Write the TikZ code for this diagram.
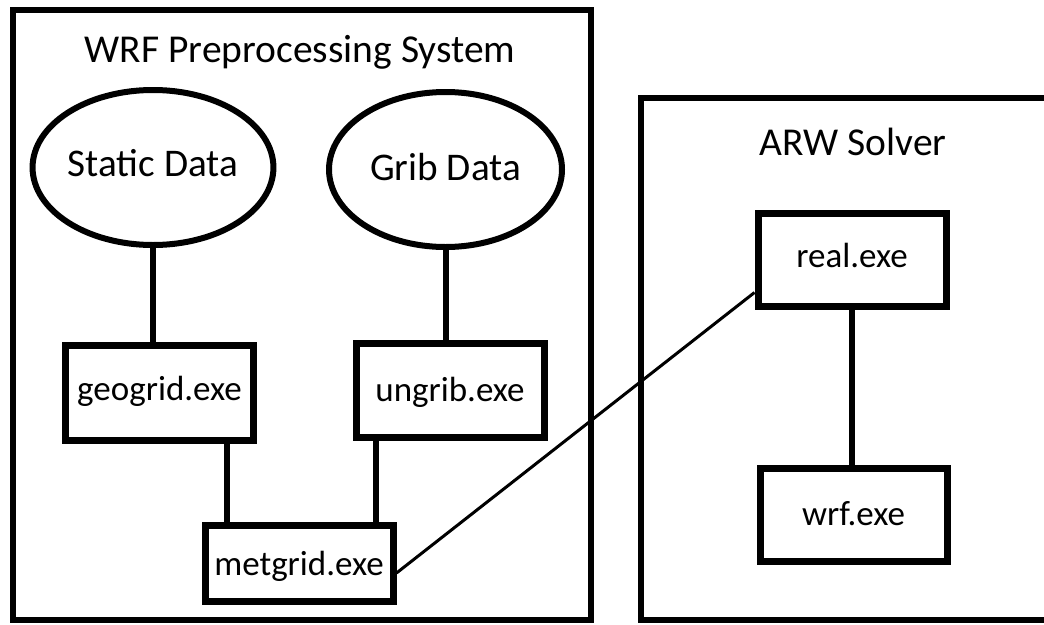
\documentclass[tikz,border=0pt]{standalone}
\usepackage{fontspec}
\setmainfont{Carlito}
\usetikzlibrary{shapes.geometric}
\begin{document}
\begin{tikzpicture}[x=1pt,y=-1pt,
  frame/.style={draw,line width=6.5pt,rectangle,inner sep=0pt},
  datanode/.style={draw,ellipse,line width=6pt,inner sep=0pt,text height=24pt,font=\fontsize{39.2}{41}\selectfont},
  exebox/.style={draw,rectangle,line width=7pt,inner sep=0pt,text height=24pt,minimum width=188pt,font=\fontsize{35}{36}\selectfont},
  title/.style={font=\fontsize{39.5}{41}\selectfont,anchor=base,inner sep=0pt},
  link/.style={line width=6pt},
  thinlink/.style={line width=3pt}]
\useasboundingbox (0,0) rectangle (1044,624);
\fill[white] (0,0) rectangle (1044,624);
% frames
\node[frame,minimum width=578pt,minimum height=610pt] (wps) at (302,315) {};
\node[frame,minimum width=419pt,minimum height=522pt] (arw) at (850.5,359) {};
\node[title] (wpstitle) at (300,62) {WRF Preprocessing System};
\node[title] (arwtitle) at (853,155) {ARW Solver};
% data
\node[datanode,minimum width=234pt,minimum height=155pt,text depth=7pt] (static) at (153,167.5) {Static Data};
\node[datanode,minimum width=233pt,minimum height=155pt,text depth=3pt] (grib) at (445.5,169.5) {Grib Data};
% exe boxes
\node[exebox,minimum height=95pt,text depth=9pt] (geogrid) at (159.5,392.5) {geogrid.exe};
\node[exebox,minimum height=94pt,text depth=1pt] (ungrib) at (450,390) {ungrib.exe};
\node[exebox,minimum height=76pt,text depth=0pt] (metgrid) at (299,563) {metgrid.exe};
\node[exebox,minimum height=93pt,text depth=9pt] (real) at (852,259.5) {real.exe};
\node[exebox,minimum width=187pt,minimum height=93pt,text depth=3pt] (wrf) at (853.5,514.5) {wrf.exe};
% connectors
\draw[link] (static.south) -- (static.south |- geogrid.north);
\draw[link] (grib.south) -- (grib.south |- ungrib.north);
\draw[link] (geogrid.south -| 227,0) -- (metgrid.north -| 227,0);
\draw[link] (ungrib.south -| 376,0) -- (metgrid.north -| 376,0);
\draw[link] (real.south) -- (real.south |- wrf.north);
\draw[thinlink] ([yshift=-10pt]metgrid.east) -- ([yshift=-33pt]real.west);
\end{tikzpicture}
\end{document}
